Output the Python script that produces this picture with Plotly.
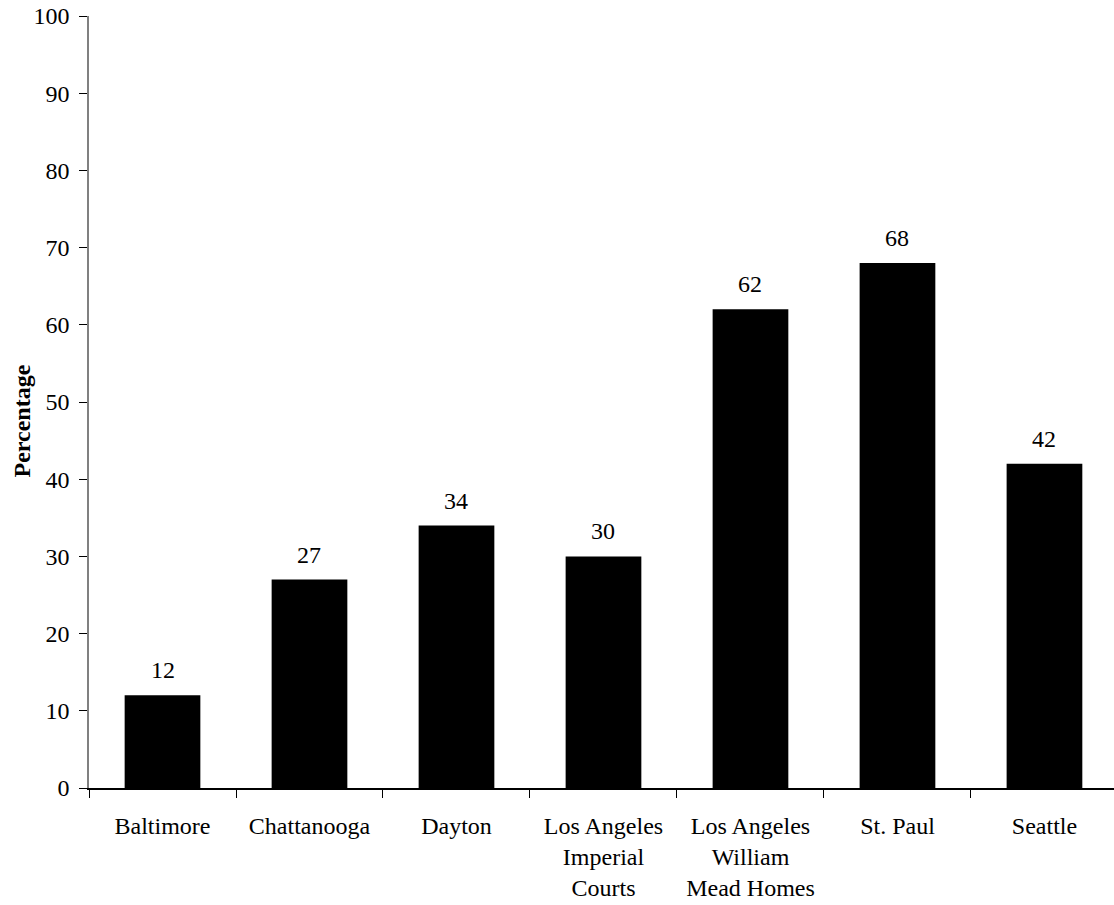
import plotly.graph_objects as go

# Share of respondents per site
sites = [
    "Baltimore",
    "Chattanooga",
    "Dayton",
    "Los Angeles<br>Imperial<br>Courts",
    "Los Angeles<br>William<br>Mead Homes",
    "St. Paul",
    "Seattle",
]
percentages = [12, 27, 34, 30, 62, 68, 42]
y_ticks = [0, 10, 20, 30, 40, 50, 60, 70, 80, 90, 100]

FONT = "'Times New Roman', 'Liberation Serif', serif"

fig = go.Figure(
    go.Bar(
        x=sites,
        y=percentages,
        marker=dict(color="black", line=dict(color="black", width=0)),
        hoverinfo="skip",
    )
)

# Value labels above each bar
for site, pct in zip(sites, percentages):
    fig.add_annotation(
        x=site, y=pct, text=str(pct),
        showarrow=False, yanchor="middle", yshift=25,
        font=dict(family=FONT, size=24, color="black"),
    )

# Vertical axis label
fig.add_annotation(
    x=0, xref="paper", y=0.4747, yref="paper",
    text="<b>Percentage</b>", textangle=-90,
    showarrow=False, xanchor="center", yanchor="middle", xshift=-67,
    font=dict(family=FONT, size=24, color="black"),
)

fig.update_layout(
    width=1114, height=905,
    margin=dict(l=89, r=0, t=16, b=117),
    paper_bgcolor="white", plot_bgcolor="white",
    bargap=0.485,
    showlegend=False,
    font=dict(family=FONT, size=24, color="black"),
)

fig.update_xaxes(
    range=[-0.5, 6.473],
    showline=True, linecolor="black", linewidth=1.5,
    ticks="outside", tickson="boundaries", ticklen=8, tickcolor="black", tickwidth=1,
    showgrid=False, zeroline=False,
    tickfont=dict(family=FONT, size=24, color="black"),
    ticklabelstandoff=15,
)

fig.update_yaxes(
    range=[0, 100],
    tickvals=y_ticks,
    showline=True, linecolor="#808080", linewidth=1.5,
    ticks="outside", ticklen=8, tickcolor="black", tickwidth=1,
    showgrid=False, zeroline=False,
    tickfont=dict(family=FONT, size=24, color="black"),
    ticklabelstandoff=5,
)

fig.write_html("out.html")
